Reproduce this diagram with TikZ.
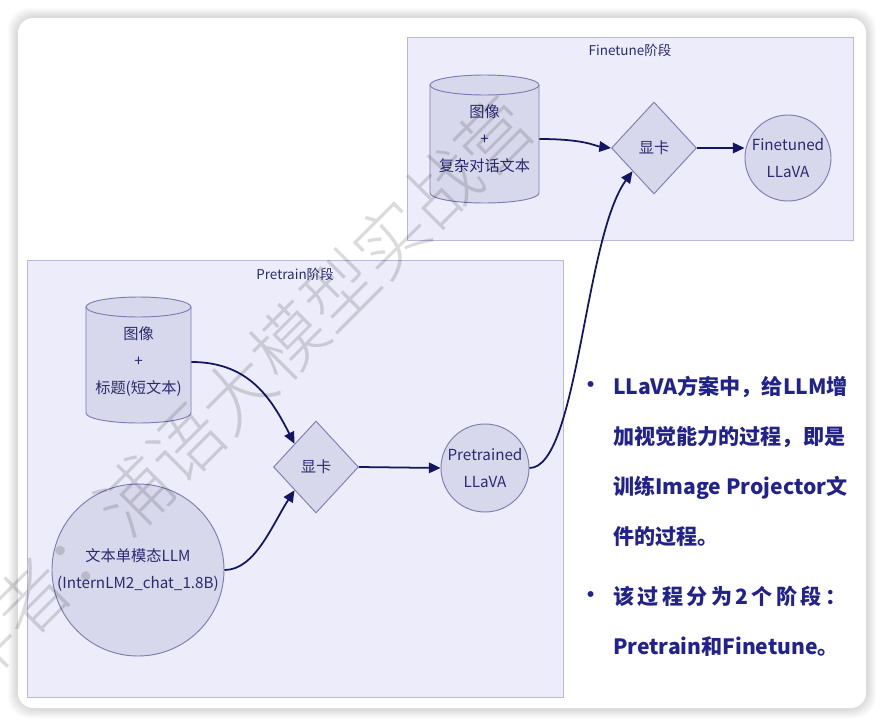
\documentclass[tikz,border=0pt]{standalone}
\usepackage{fontspec}
\setmainfont{Noto Sans CJK SC}
\newfontfamily\wmfont{Noto Sans CJK SC Light}
\usepackage{tikz}
\usetikzlibrary{arrows.meta,shapes.geometric,positioning,calc}
\definecolor{clusterfill}{RGB}{236,236,250}
\definecolor{clusterline}{RGB}{184,184,218}
\definecolor{nodefill}{RGB}{216,216,236}
\definecolor{nodeline}{RGB}{125,125,178}
\definecolor{nodetext}{RGB}{42,42,112}
\definecolor{flowcol}{RGB}{20,20,100}
\definecolor{notetext}{RGB}{34,34,140}

\begin{document}
\begin{tikzpicture}[x=0.03cm,y=-0.03cm,
  cluster/.style={draw=clusterline,fill=clusterfill,line width=0.8pt},
  stagename/.style={text=nodetext,font=\fontsize{11.5pt}{14pt}\selectfont},
  shapeline/.style={draw=nodeline,fill=nodefill,line width=0.8pt},
  box/.style={shapeline,text=nodetext,align=center,font=\fontsize{13pt}{23pt}\selectfont,inner sep=0pt},
  db/.style={box,draw=none,fill=none},
  gpu/.style={box,diamond,minimum width=2.55cm,minimum height=2.76cm},
  model/.style={box,circle},
  flow/.style={draw=flowcol,line width=1.5pt,-{Triangle[length=10pt,width=9pt]}},
  note/.style={text=notetext,font=\fontsize{18pt}{22pt}\selectfont\bfseries,inner sep=0pt},
  wmark/.style={text=black,opacity=0.14,font=\wmfont\fontsize{62pt}{70pt}\selectfont,rotate=45}]
\useasboundingbox (0,0) rectangle (884,726);
\clip (0,0) rectangle (884,726);
\foreach \s in {1,...,10}
  \fill[black,opacity=0.014,rounded corners=18pt] (18-\s,18-\s) rectangle (866+\s,708+\s);
\fill[white,rounded corners=13pt] (18,18) rectangle (866,708);

\draw[cluster] (27,260) rectangle (563,697);
\draw[cluster] (407,37) rectangle (853,240);
\node[stagename] (pttitle) at (295,274) {Pretrain阶段};
\node[stagename] (fttitle) at (630,50) {Finetune阶段};

\draw[shapeline] (86,307) -- (86,413) arc[start angle=180,end angle=360,x radius=1.575cm,y radius=0.3cm] -- (191,307) arc[start angle=0,end angle=180,x radius=1.575cm,y radius=0.3cm] -- cycle;
\draw[shapeline,fill=none] (86,307) arc[start angle=180,end angle=360,x radius=1.575cm,y radius=0.3cm];
\draw[shapeline] (430,85) -- (430,193) arc[start angle=180,end angle=360,x radius=1.635cm,y radius=0.3cm] -- (539,85) arc[start angle=0,end angle=180,x radius=1.635cm,y radius=0.3cm] -- cycle;
\draw[shapeline,fill=none] (430,85) arc[start angle=180,end angle=360,x radius=1.635cm,y radius=0.3cm];

\node[db,minimum width=3.15cm,minimum height=3.8cm] (ptdata) at (138.5,362) {图像\\+\\标题(短文本)};
\node[db,minimum width=3.27cm,minimum height=3.8cm] (ftdata) at (484.5,139) {图像\\+\\复杂对话文本};
\node[model,minimum size=5.16cm] (llm) at (138,570) {文本单模态LLM\\(InternLM2\_chat\_1.8B)};
\node[gpu] (ptgpu) at (316,467) {显卡};
\node[gpu] (ftgpu) at (654,148) {显卡};
\node[model,minimum size=2.64cm] (ptllava) at (485,468) {Pretrained\\LLaVA};
\node[model,minimum size=2.58cm] (ftllava) at (788,158) {Finetuned\\LLaVA};

\draw[flow] (ptdata.east) .. controls (250,362) and (272,400) .. (ptgpu.north west);
\draw[flow] (llm.east) .. controls (255,570) and (272,525) .. (ptgpu.south west);
\draw[flow] (ptgpu.east) -- (ptllava.west);
\draw[flow] (ptllava.east) .. controls (578,468) and (584,238) .. (ftgpu.south west);
\draw[flow] (ftdata.east) .. controls (585,139) and (595,146) .. (ftgpu.west);
\draw[flow] (ftgpu.east) -- (ftgpu.east -| ftllava.west);

\node[note] (dot1) at (591,387) {•};
\node[note] (dot2) at (591,597) {•};
\foreach \txt [count=\i] in {LLaVA方案中，给LLM增,加视觉能力的过程，即是,训练Image Projector文,件的过程。}
  \node[note,anchor=base west] (line\i) at (613,344+50*\i) {\txt};
\node[note,anchor=base west] (line5) at (613,604) {\makebox[7.0cm][l]{该\hfill 过\hfill 程\hfill 分\hfill 为\hfill 2\hfill 个\hfill 阶\hfill 段\hfill ：}};
\node[note,anchor=base west] (line6) at (613,654) {Pretrain和Finetune。};

\node[wmark] (wm) at (237,393) {作者：浦语大模型实战营};
\end{tikzpicture}
\end{document}
